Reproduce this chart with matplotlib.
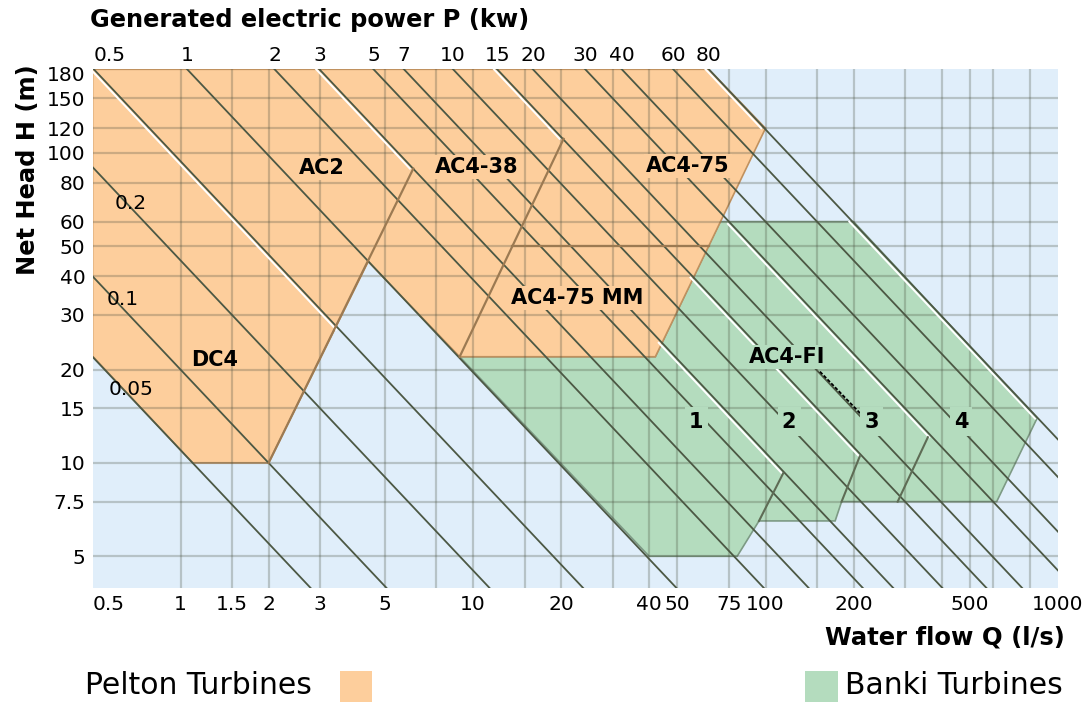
import numpy as np
import matplotlib.pyplot as plt
from matplotlib.patches import Polygon, Rectangle
from matplotlib.ticker import NullLocator

plt.rcParams['font.family'] = 'DejaVu Sans'

# axis ranges: water flow Q (l/s) and net head H (m)
q_lim = (0.5, 1000)
h_lim = (3.95, 186)

x_ticks = [0.5, 1, 1.5, 2, 3, 5, 10, 20, 40, 50, 75, 100, 200, 500, 1000]
x_labels = ['0.5', '1', '1.5', '2', '3', '5', '10', '20', '40', '50', '75', '100', '200', '500', '1000']
y_ticks = [5, 7.5, 10, 15, 20, 30, 40, 50, 60, 80, 100, 120, 150, 180]
y_labels = ['5', '7.5', '10', '15', '20', '30', '40', '50', '60', '80', '100', '120', '150', '180']
x_grid = [1, 1.5, 2, 3, 5, 7.5, 10, 15, 20, 30, 40, 50, 75, 100, 150, 200, 300, 400, 500, 600, 800]
y_grid = [5, 7.5, 10, 15, 20, 30, 40, 50, 60, 80, 100, 120, 150]

# lines of constant power: kW and the Q*H product each line follows
power_kw = ['0.05', '0.1', '0.2', '0.5', '1', '2', '3', '5', '7', '10', '15', '20', '30', '40', '60', '80']
power_qh = [11, 20, 45, 94, 196, 390, 555, 850, 1080, 1590, 2250, 2980, 4500, 6000, 9000, 11900]

# turbine ranges
pelton_q = [0.5, 64, 100, 42, 9, 4.38, 2, 1.1, 0.5]
pelton_h = [186, 186, 120, 22, 22, 44.6, 10, 10, 22.1]
banki_q = [9, 42, 70, 200, 847, 617, 182, 173, 95, 80, 40]
banki_h = [22, 22, 60, 60, 13.9, 7.5, 7.5, 6.5, 6.5, 5, 5]

# borders between models
pelton_edge_q = [[2, 6.25], [9, 20.4], [13.6, 64]]
pelton_edge_h = [[10, 89], [22, 111], [50, 50]]
banki_edge_q = [[95, 115], [182, 210], [283, 359]]
banki_edge_h = [[6.5, 9.27], [7.5, 10.5], [7.5, 12.1]]

# white highlights along some power lines (Q*H, head from, head to)
white_qh = [94, 555, 2250, 11900, 11900, 1080, 2250, 4500]
white_from = [186, 186, 186, 186, 60, 24.4, 39.6, 59]
white_to = [26.9, 89, 111, 120, 13.9, 9.3, 10.5, 12.1]

# model labels
model_names = ['AC2', 'AC4-38', 'AC4-75', 'AC4-75 MM']
model_q = [3.05, 10.3, 54.3, 22.7]
model_h = [89.5, 89.9, 90.6, 34.1]
unit_names = ['1', '2', '3', '4']
unit_q = [57.9, 120.4, 231, 466]
unit_h = [13.6, 13.6, 13.6, 13.6]
small_q = [0.677, 0.636, 0.677]
small_h = [17.2, 33.6, 68.8]

orange = '#fdce9c'
green = '#b4dcbe'
blue = '#e0eefa'
line_col = '#4c5844'

W, H = 1086, 702
fig = plt.figure(figsize=(W / 100, H / 100), dpi=100)
ax = fig.add_axes([92.5 / W, 1 - 588 / H, 965.5 / W, 518.7 / H])
ax.set_xscale('log')
ax.set_yscale('log')
ax.set_xlim(*q_lim)
ax.set_ylim(*h_lim)
ax.set_facecolor(blue)
for s in ax.spines.values():
    s.set_visible(False)

ax.add_patch(Polygon(np.column_stack([banki_q, banki_h]), closed=True,
                     fc=green, ec='#7d9a84', lw=1.2, zorder=1))
ax.add_patch(Polygon(np.column_stack([pelton_q, pelton_h]), closed=True,
                     fc=orange, ec='#c0915f', lw=1.2, zorder=1.1))

for q in x_grid:
    ax.axvline(q, color='#4a5040', alpha=0.28, lw=1.6, zorder=2)
for h in y_grid:
    ax.axhline(h, color='#4a5040', alpha=0.28, lw=1.6, zorder=2)

q_ends = np.array(q_lim)
for qh, h0, h1 in zip(white_qh, white_from, white_to):
    hh = np.array([h0, h1])
    ax.plot(qh * 0.975 / hh, hh, color='white', lw=1.4, zorder=3)
for qh in power_qh:
    ax.plot(q_ends, qh / q_ends, color=line_col, lw=1.3, zorder=4)

for qq, hh in zip(pelton_edge_q, pelton_edge_h):
    ax.plot(qq, hh, color='#9c7a52', lw=1.6, zorder=4)
for qq, hh in zip(banki_edge_q, banki_edge_h):
    ax.plot(qq, hh, color='#5e6c55', lw=1.5, zorder=4)

# AC4-FI pointer
ax.plot([153.5, 213], [19.7, 14.3], color='black', lw=1.3, ls=(0, (2, 1)), zorder=5)

ax.text(1.31, 21.5, 'DC4', fontsize=15, fontweight='bold', ha='center', va='center', zorder=6)
for name, q, h in zip(model_names, model_q, model_h):
    ax.text(q, h, name, fontsize=15, fontweight='bold', ha='center', va='center', zorder=6,
            bbox=dict(fc=orange, ec='none', pad=1.5))
ax.text(118.4, 22.0, 'AC4-FI', fontsize=15, fontweight='bold', ha='center', va='center',
        zorder=6, bbox=dict(fc=green, ec='none', pad=1.5))
for name, q, h in zip(unit_names, unit_q, unit_h):
    ax.text(q, h, name, fontsize=15, fontweight='bold', ha='center', va='center', zorder=6,
            bbox=dict(fc=green, ec='none', pad=3))
for name, q, h in zip(power_kw[:3], small_q, small_h):
    ax.text(q, h, name, fontsize=14.5, ha='center', va='center', zorder=6)

ax.set_xticks(x_ticks, labels=x_labels)
ax.set_yticks(y_ticks, labels=y_labels)
ax.xaxis.set_minor_locator(NullLocator())
ax.yaxis.set_minor_locator(NullLocator())
ax.tick_params(length=0, labelsize=14.5, pad=5)
ax.get_xticklabels()[0].set_ha('left')

top = ax.secondary_xaxis('top')
top.set_xticks([qh / h_lim[1] for qh in power_qh[3:]], labels=power_kw[3:])
top.xaxis.set_minor_locator(NullLocator())
top.tick_params(length=0, labelsize=14.5, pad=3)
top.get_xticklabels()[0].set_ha('left')
for s in top.spines.values():
    s.set_visible(False)

fig.text(90 / W, 1 - 20 / H, 'Generated electric power P (kw)', fontsize=17.4, fontweight='bold',
         ha='left', va='center')
fig.text(28 / W, 1 - 170 / H, 'Net Head H (m)', fontsize=17.4, fontweight='bold',
         rotation=90, ha='center', va='center')
fig.text(1065 / W, 1 - 637 / H, 'Water flow Q (l/s)', fontsize=17.5, fontweight='bold',
         ha='right', va='center')

fig.text(85 / W, 1 - 686 / H, 'Pelton Turbines', fontsize=21.5, ha='left', va='center')
fig.add_artist(Rectangle((340 / W, 1 - 702 / H), 32 / W, 31 / H, transform=fig.transFigure,
                         fc=orange, ec='none'))
fig.add_artist(Rectangle((805 / W, 1 - 702 / H), 33 / W, 31 / H, transform=fig.transFigure,
                         fc=green, ec='none'))
fig.text(845 / W, 1 - 686 / H, 'Banki Turbines', fontsize=21.5, ha='left', va='center')

fig.savefig('out.png', dpi=100)
